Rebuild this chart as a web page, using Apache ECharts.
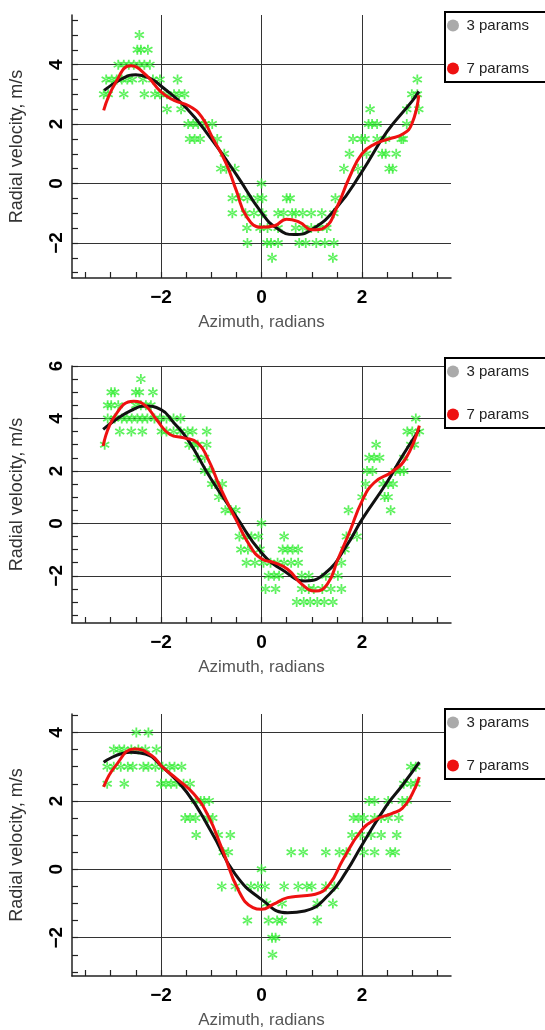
<!DOCTYPE html>
<html><head><meta charset="utf-8">
<script src="https://cdn.jsdelivr.net/npm/echarts@6/dist/echarts.min.js"></script>
<style>html,body{margin:0;padding:0;background:#fff}#c{width:545px;height:1030px}</style>
</head><body><div id="c"></div>
<script>
// ---- axis structure ----
const xRange = [-3.77, 3.77];
const xTicks = [-3.5,-3,-2.5,-2,-1.5,-1,-0.5,0,0.5,1,1.5,2,2.5,3,3.5];
const xLabels = [-2, 0, 2];
const p1YRange = [-3.18, 5.67];
const p1YTicks = [-3,-2.5,-2,-1.5,-1,-0.5,0,0.5,1,1.5,2,2.5,3,3.5,4,4.5,5,5.5];
const p1YLabels = [-2, 0, 2, 4];
const p2YRange = [-3.8, 6];
const p2YTicks = [-3.5,-3,-2.5,-2,-1.5,-1,-0.5,0,0.5,1,1.5,2,2.5,3,3.5,4,4.5,5,5.5,6];
const p2YLabels = [-2, 0, 2, 4, 6];
const p3YRange = [-3.12, 4.54];
const p3YTicks = [-3,-2.5,-2,-1.5,-1,-0.5,0,0.5,1,1.5,2,2.5,3,3.5,4,4.5];
const p3YLabels = [-2, 0, 2, 4];
const seriesNames = ['3 params', '7 params'];

// ---- panel 1 data: rows of [velocity, [azimuths]] ----
const p1StarRows = [
  [5.0, [-2.43]],
  [4.5, [-2.47,-2.4,-2.26]],
  [4.0, [-2.85,-2.74,-2.64,-2.54,-2.43,-2.33,-2.22]],
  [3.5, [-3.09,-2.98,-2.88,-2.78,-2.67,-2.57,-2.36,-2.16,-2.02,-1.67,3.1]],
  [3.0, [-3.14,-3.05,-2.74,-2.33,-2.12,-2.02,-1.88,-1.74,-1.64,-1.53,2.99,3.1]],
  [2.5, [-1.88,-1.6,2.16,2.89,3.13]],
  [2.0, [-1.46,-1.36,-1.26,-1.12,-0.98,2.13,2.2,2.3,2.89]],
  [1.5, [-1.43,-1.33,-1.22,-0.88,1.82,1.99,2.06,2.3,2.47,2.78,2.82]],
  [1.0, [-0.74,1.75,2.09,2.4,2.47,2.68]],
  [0.5, [-0.81,-0.7,-0.53,1.64,1.92,2.54,2.61]],
  [0.0, [0]],
  [-0.5, [-0.58,-0.43,-0.28,-0.08,0.02,0.5,0.57,1.47]],
  [-1.0, [-0.58,-0.32,-0.15,0.02,0.33,0.44,0.61,0.68,0.82,0.99,1.2,1.44]],
  [-1.5, [-0.29,-0.03,0.12,0.33,0.68,0.82,0.99,1.13,1.3]],
  [-2.0, [-0.28,0.11,0.19,0.33,0.75,0.88,1.09,1.26,1.44]],
  [-2.5, [0.21,1.42]]
];
const p1Black = [[-3.13,3.13],[-2.8,3.5],[-2.5,3.66],[-2.2,3.52],[-2.0,3.28],[-1.5,2.55],[-1.0,1.5],[-0.5,0.3],[0,-0.98],[0.3,-1.5],[0.65,-1.72],[1.0,-1.55],[1.5,-0.8],[2.0,0.4],[2.5,1.75],[3.0,2.78],[3.13,3.1]];
const p1Red = [[-3.14,2.46],[-2.9,3.4],[-2.6,3.96],[-2.29,3.64],[-2.0,3.08],[-1.74,2.8],[-1.43,2.6],[-1.19,2.24],[-0.98,1.56],[-0.7,0.66],[-0.5,-0.24],[-0.29,-1.13],[0,-1.47],[0.26,-1.42],[0.5,-1.2],[0.75,-1.3],[1.02,-1.56],[1.26,-1.47],[1.5,-0.8],[1.75,0.21],[2.0,1.0],[2.27,1.34],[2.54,1.5],[2.82,1.67],[2.99,2.0],[3.13,2.97]];

// ---- panel 2 data ----
const p2StarRows = [
  [5.5, [-2.4]],
  [5.0, [-2.99,-2.92,-2.5,-2.43,-2.16]],
  [4.5, [-3.06,-2.99,-2.85,-2.5,-2.4,-2.3,-2.2]],
  [4.0, [-3.06,-2.92,-2.78,-2.68,-2.58,-2.47,-2.37,-2.27,-2.13,-2.02,-1.89,-1.75,-1.61,3.07]],
  [3.5, [-2.82,-2.59,-2.37,-1.99,-1.89,-1.75,-1.61,-1.47,-1.37,-1.09,2.9,3.0,3.14]],
  [3.0, [-3.12,-1.44,-1.34,-1.27,-1.09,2.28,2.97,3.04]],
  [2.5, [-1.27,-1.13,2.14,2.24,2.35,2.83]],
  [2.0, [-1.13,-1.03,2.1,2.21,2.66,2.76,2.83]],
  [1.5, [-0.99,-0.92,-0.78,2.07,2.42,2.52,2.62]],
  [1.0, [-0.85,2.0,2.45,2.52]],
  [0.5, [-0.72,-0.61,-0.51,1.73,2.57]],
  [0.0, [0]],
  [-0.5, [-0.44,-0.3,-0.2,-0.06,0.45,1.69,1.9]],
  [-1.0, [-0.41,-0.27,-0.03,0.42,0.52,0.62,0.73,1.66]],
  [-1.5, [-0.3,-0.13,0.04,0.18,0.32,0.45,0.59,0.73,1.59]],
  [-2.0, [0.14,0.25,0.35,0.8,0.94,1.28,1.52]],
  [-2.5, [0.08,0.28,0.8,0.94,1.04,1.21,1.38,1.59]],
  [-3.0, [0.7,0.84,0.97,1.11,1.25,1.42]]
];
const p2Black = [[-3.15,3.58],[-2.9,3.95],[-2.6,4.3],[-2.33,4.47],[-2.0,4.34],[-1.75,3.85],[-1.47,3.2],[-1.0,1.68],[-0.51,0.28],[0,-1.12],[0.45,-1.82],[0.87,-2.2],[1.28,-1.88],[1.69,-0.86],[2.0,0.15],[2.49,1.55],[2.8,2.56],[3.14,3.58]];
const p2Red = [[-3.15,2.95],[-2.92,4.09],[-2.54,4.66],[-2.3,4.47],[-2.09,3.96],[-1.82,3.39],[-1.54,3.26],[-1.27,3.07],[-1.06,2.44],[-0.82,1.36],[-0.51,0.15],[-0.23,-0.86],[0,-1.35],[0.25,-1.5],[0.52,-1.75],[0.8,-2.32],[1.07,-2.58],[1.31,-2.32],[1.52,-1.37],[1.76,-0.29],[2.0,0.85],[2.24,1.55],[2.59,1.96],[2.86,2.44],[3.14,3.73]];

// ---- panel 3 data ----
const p3StarRows = [
  [4.0, [-2.49,-2.25]],
  [3.5, [-2.94,-2.83,-2.73,-2.59,-2.45,-2.31,-2.09]],
  [3.0, [-3.07,-2.94,-2.8,-2.66,-2.56,-2.35,-2.25,-2.11,-1.97,-1.83,-1.73,-1.59,2.97,3.07]],
  [2.5, [-3.07,-2.73,-2.0,-1.9,-1.8,-1.69,-1.55,-1.42,2.83,2.97,3.07]],
  [2.0, [-1.31,-1.21,-1.14,-1.04,2.14,2.25,2.52,2.8,2.9]],
  [1.5, [-1.52,-1.42,-1.31,-1.07,-0.97,1.83,1.93,2.04,2.25,2.38,2.52,2.73]],
  [1.0, [-1.3,-0.86,-0.62,1.8,1.97,2.18,2.38,2.69]],
  [0.5, [-0.76,-0.66,0.59,0.83,1.28,1.55,1.69,2.04,2.25,2.56,2.66]],
  [0.0, [0]],
  [-0.5, [-0.79,-0.52,-0.21,-0.07,0.07,0.45,0.73,0.9,1.0,1.28,1.45]],
  [-1.0, [0.1,0.41,1.11,1.42]],
  [-1.5, [-0.28,0.14,0.31,0.41,1.11]],
  [-2.0, [0.21,0.28]],
  [-2.5, [0.22]]
];
const p3Black = [[-3.14,3.13],[-2.59,3.42],[-2.31,3.37],[-2.0,3.03],[-1.49,2.26],[-1.0,1.1],[-0.52,-0.15],[0,-0.88],[0.52,-1.27],[0.86,-1.22],[1.35,-0.73],[1.69,-0.06],[2.0,0.71],[2.49,1.87],[2.8,2.45],[3.14,3.13]];
const p3Red = [[-3.14,2.41],[-2.9,3.03],[-2.52,3.52],[-2.18,3.32],[-1.97,2.99],[-1.69,2.65],[-1.35,2.21],[-1.07,1.59],[-0.79,0.62],[-0.45,-0.64],[-0.17,-1.12],[0,-1.17],[0.24,-1.02],[0.52,-0.83],[0.79,-0.78],[1.07,-0.73],[1.35,-0.44],[1.62,0.28],[1.97,1.1],[2.25,1.44],[2.59,1.63],[2.8,1.78],[3.0,2.21],[3.14,2.7]];

// ---- build ----
const FONT = "'Liberation Sans', Arial, sans-serif";
const starPath = 'path://M-0.17 -1 L0.17 -1 L0.17 1 L-0.17 1 Z M0.781 0.647 L0.951 0.353 L-0.781 -0.647 L-0.951 -0.353 Z M0.951 -0.353 L0.781 -0.647 L-0.951 0.353 L-0.781 0.647 Z';
const fmt = v => (v < 0 ? '\u2212' + Math.abs(v) : String(v));
const flatten = rows => rows.flatMap(r => r[1].map(x => [x, r[0]]));

const panels = [
  {grid:{left:72, top:15, width:379, height:263}, yr:p1YRange, yt:p1YTicks, yl:p1YLabels, stars:p1StarRows, black:p1Black, red:p1Red, legTop:12},
  {grid:{left:72, top:366, width:379, height:257}, yr:p2YRange, yt:p2YTicks, yl:p2YLabels, stars:p2StarRows, black:p2Black, red:p2Red, legTop:358},
  {grid:{left:72, top:714, width:379, height:265}, yr:p3YRange, yt:p3YTicks, yl:p3YLabels, stars:p3StarRows, black:p3Black, red:p3Red, legTop:709}
];

const grid = [], xAxis = [], yAxis = [], series = [], legend = [];
panels.forEach((p, g) => {
  grid.push(p.grid);
  xAxis.push({
    gridIndex:g, type:'value', min:xRange[0], max:xRange[1], position:'bottom',
    axisLine:{show:true, onZero:false, lineStyle:{color:'#222', width:1.5}},
    axisTick:{show:true, inside:true, length:6, customValues:xTicks, lineStyle:{color:'#222', width:1.2}},
    axisLabel:{show:true, customValues:xLabels, margin:10, color:'#000', fontSize:19, fontWeight:'bold', fontFamily:FONT, formatter:fmt},
    splitLine:{show:false},
    name:'Azimuth, radians', nameLocation:'middle', nameGap:36,
    nameTextStyle:{color:'#555', fontSize:17, fontFamily:FONT}
  });
  xAxis.push({
    gridIndex:g, type:'value', min:xRange[0], max:xRange[1], position:'bottom',
    axisLine:{show:false}, axisTick:{show:false, customValues:xLabels},
    axisLabel:{show:false, customValues:xLabels},
    splitLine:{show:true, lineStyle:{color:'#333', width:1}}
  });
  yAxis.push({
    gridIndex:g, type:'value', min:p.yr[0], max:p.yr[1], position:'left',
    axisLine:{show:true, onZero:false, lineStyle:{color:'#222', width:1.5}},
    axisTick:{show:true, inside:true, length:6, customValues:p.yt, lineStyle:{color:'#222', width:1.2}},
    axisLabel:{show:true, customValues:p.yl, rotate:90, margin:6, color:'#000', fontSize:19, fontWeight:'bold', fontFamily:FONT, formatter:fmt},
    splitLine:{show:false},
    name:'Radial velocity, m/s', nameLocation:'middle', nameGap:46,
    nameTextStyle:{color:'#333', fontSize:18, fontFamily:FONT}
  });
  yAxis.push({
    gridIndex:g, type:'value', min:p.yr[0], max:p.yr[1], position:'left',
    axisLine:{show:false}, axisTick:{show:false, customValues:p.yl},
    axisLabel:{show:false, customValues:p.yl},
    splitLine:{show:true, lineStyle:{color:'#333', width:1}}
  });
  const xi = 2*g, yi = 2*g;
  series.push({
    type:'scatter', name:'data', xAxisIndex:xi, yAxisIndex:yi, data:flatten(p.stars),
    symbol:starPath, symbolSize:10, itemStyle:{color:'#33ee33'}, z:2, silent:true
  });
  series.push({
    type:'line', name:seriesNames[0], xAxisIndex:xi, yAxisIndex:yi, data:p.black,
    smooth:0.5, symbol:'none', lineStyle:{color:'#111', width:3}, itemStyle:{color:'#111'}, z:3, silent:true
  });
  series.push({
    type:'line', name:seriesNames[1], xAxisIndex:xi, yAxisIndex:yi, data:p.red,
    smooth:0.5, symbol:'none', lineStyle:{color:'#ee1111', width:3}, itemStyle:{color:'#ee1111'}, z:4, silent:true
  });
  legend.push({
    left:445, top:p.legTop, orient:'vertical', icon:'circle',
    itemWidth:17, itemHeight:12, itemGap:28, padding:[6, 30, 6, 2],
    borderColor:'#000', borderWidth:2, backgroundColor:'#fff',
    textStyle:{color:'#222', fontSize:15, fontFamily:FONT},
    selectedMode:false,
    data:[{name:seriesNames[0], itemStyle:{color:'#aaaaaa'}}, {name:seriesNames[1], itemStyle:{color:'#ee1111'}}]
  });
});

const chart = echarts.init(document.getElementById('c'), null, {renderer:'canvas'});
chart.setOption({animation:false, backgroundColor:'#fff', grid, xAxis, yAxis, series, legend});
</script>
</body></html>
